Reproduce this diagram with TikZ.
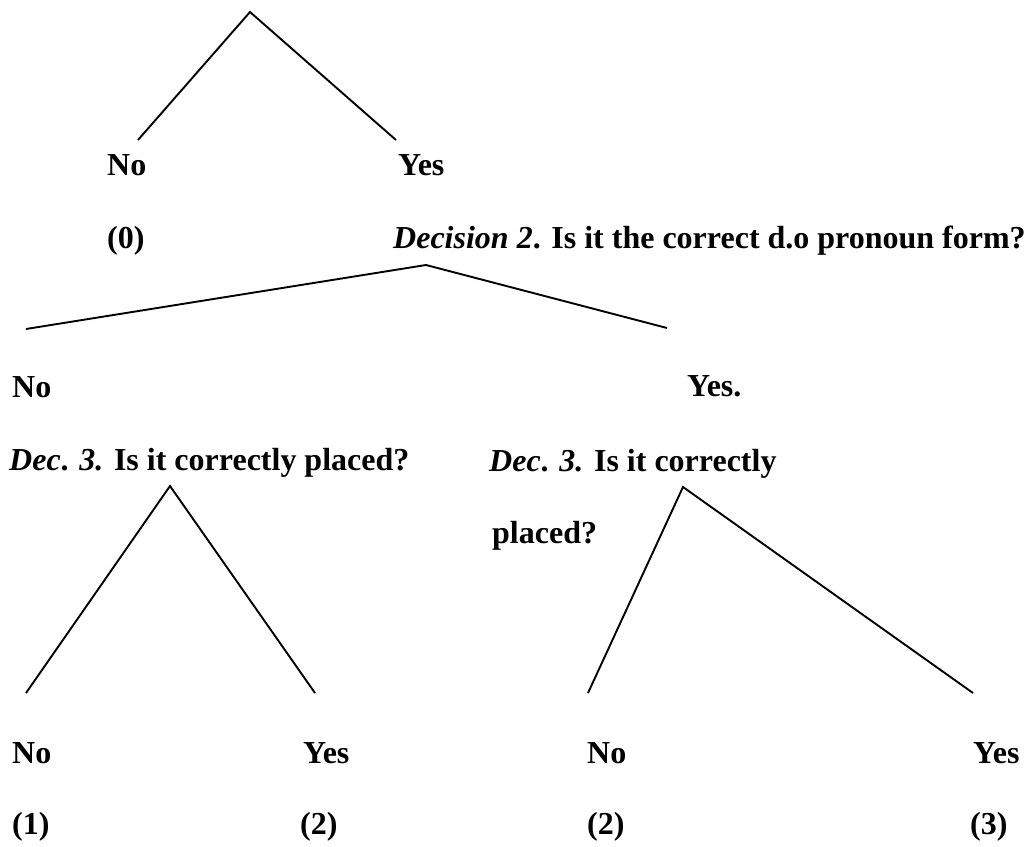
\documentclass[tikz,border=0pt]{standalone}
\usepackage{fontspec}
\setmainfont{Liberation Serif}
\usepackage{tikz}

\begin{document}
\begin{tikzpicture}[
      x=1pt, y=-1pt,
      ans/.style={font=\fontsize{32}{38}\selectfont\bfseries, anchor=base west, inner sep=0pt},
      branch/.style={line width=1.9pt, line join=miter}
  ]
    \useasboundingbox (0,0) rectangle (1028,846);

    % Decision 1
    \coordinate (top1) at (250,12);
    \coordinate (top1no) at (138,140);
    \coordinate (top1yes) at (396,140);
    \draw[branch] (top1no) -- (top1) -- (top1yes);
    \node[ans] (no1) at (107,175) {No};
    \node[ans] (yes1) at (398,175) {Yes};
    \node[ans] (score0) at (107,248) {(0)};
    \node[ans] (dec2) at (393,248) {\textit{Decision 2}. Is it the correct d.o pronoun form?};

    % Decision 2
    \coordinate (top2) at (426,265);
    \coordinate (top2no) at (26,329);
    \coordinate (top2yes) at (667,328);
    \draw[branch] (top2no) -- (top2) -- (top2yes);
    \node[ans] (no2) at (12,397) {No};
    \node[ans] (yes2) at (687,396) {Yes.};
    \node[ans] (dec3a) at (9,470) {\textit{Dec}. \textit{3.} Is it correctly placed?};
    \node[ans] (dec3b) at (489,471) {\textit{Dec}. \textit{3.} Is it correctly};
    \node[ans] (dec3c) at (492,543) {placed?};

    % Decision 3 (left)
    \coordinate (top3) at (170,486);
    \coordinate (top3no) at (26,693);
    \coordinate (top3yes) at (315,693);
    \draw[branch] (top3no) -- (top3) -- (top3yes);
    \node[ans] (no3) at (12,763) {No};
    \node[ans] (yes3) at (303,763) {Yes};
    \node[ans] (score1) at (12,834) {(1)};
    \node[ans] (score2a) at (300,834) {(2)};

    % Decision 3 (right)
    \coordinate (top4) at (683,487);
    \coordinate (top4no) at (588,693);
    \coordinate (top4yes) at (973,693);
    \draw[branch] (top4no) -- (top4) -- (top4yes);
    \node[ans] (no4) at (587,763) {No};
    \node[ans] (yes4) at (973,763) {Yes};
    \node[ans] (score2b) at (587,834) {(2)};
    \node[ans] (score3) at (970,834) {(3)};
\end{tikzpicture}
\end{document}
